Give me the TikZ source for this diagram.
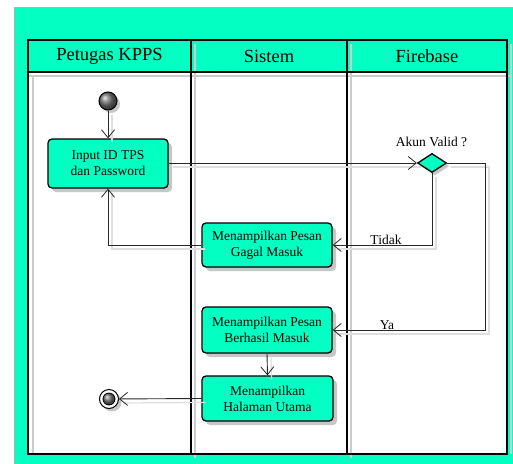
\documentclass[tikz,border=0pt]{standalone}
\usepackage{fontspec}
\setmainfont{Liberation Serif}
\usetikzlibrary{arrows.meta,shapes.geometric,shadows}
\definecolor{teal1}{RGB}{4,255,195}
\definecolor{lnk}{RGB}{40,40,40}
\begin{document}
\begin{tikzpicture}[x=1pt,y=-1pt,
  actbox/.style={draw=black, line width=1.3pt, fill=teal1, rounded corners=4pt,
    align=center, inner sep=0pt, font=\fontsize{13.5}{16}\selectfont,
    drop shadow={shadow xshift=4pt, shadow yshift=-4pt, fill=black!22, opacity=1}},
  lanehead/.style={font=\fontsize{18.5}{20}\selectfont, inner sep=0pt},
  lbl/.style={font=\fontsize{13.5}{16}\selectfont, inner sep=0pt},
  arr/.style={draw=lnk, line width=0.9pt, -{Straight Barb[length=8pt,width=13pt,line width=0.8pt]},
    preaction={draw=black!13, line width=1.2pt, -, transform canvas={shift={(4pt,-4pt)}}}},
  laneline/.style={draw=black, line width=1.5pt},
  laneshadow/.style={draw=black!20, line width=2pt}]
\useasboundingbox (0,0) rectangle (513,463);
% outer background
\fill[white] (0,0) rectangle (513,463);
\filldraw[fill=teal1, draw=black!30, line width=0.6pt] (14,7) rectangle (516,466);
% lane frame
\fill[white] (28,72) rectangle (507,454);
\fill[teal1] (28,40) rectangle (507,72);
% lane shadows
\draw[laneshadow] (29,76) -- (511,76);
\draw[laneshadow] (33,76) -- (33,454);
\draw[laneshadow] (195,44) -- (195,458);
\draw[laneshadow] (351,44) -- (351,458);
\draw[laneshadow] (511,44) -- (511,454);
\draw[laneline] (28,40) rectangle (507,454);
\draw[laneline] (28,72) -- (507,72);
\draw[laneline] (191,40) -- (191,454);
\draw[laneline] (347,40) -- (347,454);
\node[lanehead] (h1) at (109.5,56) {Petugas KPPS};
\node[lanehead] (h2) at (269,56) {Sistem};
\node[lanehead] (h3) at (427,56) {Firebase};
% start / end
\node[circle, draw=black, line width=1pt, minimum size=18pt, inner sep=0pt,
  shading=ball, ball color=black!55,
  drop shadow={shadow xshift=3pt, shadow yshift=-3pt, fill=black!22, opacity=1}] (start) at (108,101) {};
\node[circle, draw=black, line width=1pt, minimum size=19pt, inner sep=0pt, fill=white,
  drop shadow={shadow xshift=3pt, shadow yshift=-3pt, fill=black!22, opacity=1}] (end) at (109,399) {};
\node[circle, draw=black, line width=0.8pt, minimum size=12pt, inner sep=0pt,
  shading=ball, ball color=black!55] (endin) at (109,399) {};
% activities
\node[actbox, minimum width=120pt, minimum height=49pt] (input) at (108,163.5) {Input ID TPS\\dan Password};
\node[actbox, minimum width=130pt, minimum height=44pt] (gagal) at (267,245) {Menampilkan Pesan\\Gagal Masuk};
\node[actbox, minimum width=130pt, minimum height=46pt] (berhasil) at (267,330) {Menampilkan Pesan\\Berhasil Masuk};
\node[actbox, minimum width=131pt, minimum height=45pt] (utama) at (267.5,398.5) {Menampilkan\\Halaman Utama};
% decision
\node[diamond, draw=black, line width=1.3pt, fill=teal1, minimum width=29pt, minimum height=19pt,
  inner sep=0pt, aspect=1.5,
  drop shadow={shadow xshift=3pt, shadow yshift=-3pt, fill=black!22, opacity=1}] (dec) at (432,163) {};
\node[lbl] (qlab) at (431.5,142) {Akun Valid ?};
\node[lbl] (tidak) at (386,240) {Tidak};
\node[lbl] (ya) at (387,325) {Ya};
\coordinate (yaturn) at (485,163);
% connectors
\draw[arr] (start) -- (input);
\draw[arr] (input.east |- dec.west) -- (dec.west);
\draw[arr] (dec.south) |- (gagal.east);
\draw[arr] (gagal.west) -| (input.south);
\draw[arr] (dec.east) -- (yaturn) |- (berhasil.east);
\draw[arr] (berhasil.south) -- (utama.north);
\draw[arr] (utama.west) -- (end);
\end{tikzpicture}
\end{document}
